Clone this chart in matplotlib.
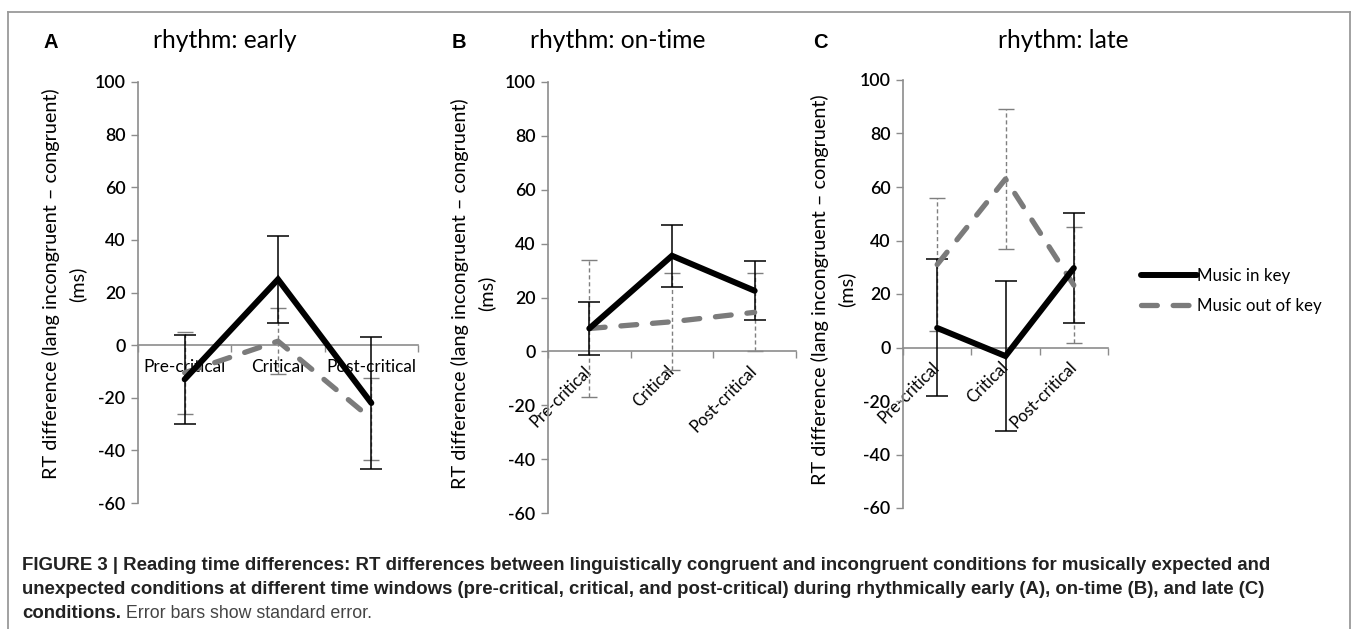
import matplotlib
matplotlib.use("Agg")
import matplotlib.pyplot as plt
from matplotlib.lines import Line2D

# ---------------- data ----------------
categories = ["Pre-critical", "Critical", "Post-critical"]
panel_letters = ["A", "B", "C"]
panel_titles = ["rhythm: early", "rhythm: on-time", "rhythm: late"]
series_names = ["Music in key", "Music out of key"]

early_in_key = [-13, 25, -22]
early_in_key_se = [17, 16.5, 25]
early_out_key = [-10.5, 1.5, -28]
early_out_key_se = [15.5, 12.5, 15.5]

ontime_in_key = [8.5, 35.5, 22.5]
ontime_in_key_se = [10, 11.5, 11]
ontime_out_key = [8.5, 11, 14.5]
ontime_out_key_se = [25.5, 18, 14.5]

late_in_key = [7.3, -3.2, 29.7]
late_in_key_se = [25.6, 28, 20.6]
late_out_key = [31, 63, 23.3]
late_out_key_se = [25, 26, 21.7]

y_ticks = [-60, -40, -20, 0, 20, 40, 60, 80, 100]
ylabel_text = "RT difference (lang incongruent \u2013 congruent)\n(ms)"

caption_line1 = ("FIGURE 3 | Reading time differences: RT differences between linguistically "
                 "congruent and incongruent conditions for musically expected and")
caption_line2 = ("unexpected conditions at different time windows (pre-critical, critical, and "
                 "post-critical) during rhythmically early (A), on-time (B), and late (C)")
caption_line3_bold = "conditions."
caption_line3_regular = " Error bars show standard error."

# ---------------- layout ----------------
W, H = 1358, 629
fig = plt.figure(figsize=(W / 100, H / 100), dpi=100)
fig.patch.set_facecolor("white")

CHART_FONT = "Lato"
CAP_FONT = "Liberation Sans"

# axes boxes in pixels: (left, right, top(100), bottom(-60))
boxes = [(138, 418, 82, 503), (548, 796, 82, 513), (903, 1108, 80, 508)]
label_x = [-0.186, -0.212, -0.232]
label_y = [0.52, 0.51, 0.51]
rotate = [False, True, True]
title_cx = [225, 618, 1063]
letter_x = [43, 452, 813]

panels = [
    (early_in_key, early_in_key_se, early_out_key, early_out_key_se),
    (ontime_in_key, ontime_in_key_se, ontime_out_key, ontime_out_key_se),
    (late_in_key, late_in_key_se, late_out_key, late_out_key_se),
]

AXIS_GRAY = "#8c8c8c"
DASH_GRAY = "#7b7b7b"
EB_GRAY = "#7f7f7f"

x_pos = [0.5, 1.5, 2.5]
legend_handles = None

for i, (ink, inse, outk, outse) in enumerate(panels):
    l, r, t, b = boxes[i]
    ax = fig.add_axes([l / W, 1 - b / H, (r - l) / W, (b - t) / H])
    ax.set_xlim(0, 3)
    ax.set_ylim(-60, 100)
    ax.patch.set_alpha(0)

    # error bars
    eb_out = ax.errorbar(x_pos, outk, yerr=outse, fmt="none", ecolor=EB_GRAY,
                         elinewidth=1.0, capsize=6, capthick=1.0, zorder=2)
    eb_out[2][0].set_linestyle((0, (3, 2)))
    ax.errorbar(x_pos, ink, yerr=inse, fmt="none", ecolor="black",
                elinewidth=1.1, capsize=8, capthick=1.1, zorder=3)

    # lines
    h_out, = ax.plot(x_pos, outk, color=DASH_GRAY, lw=3.8, linestyle=(0, (3.0, 3.0)),
                     dash_capstyle="round", solid_capstyle="round", zorder=4,
                     label=series_names[1])
    h_in, = ax.plot(x_pos, ink, color="black", lw=4.3, solid_capstyle="round",
                    solid_joinstyle="miter", zorder=5, label=series_names[0])
    legend_handles = [h_in, h_out]

    # spines
    for s in ["top", "right"]:
        ax.spines[s].set_visible(False)
    ax.spines["left"].set_color(AXIS_GRAY)
    ax.spines["left"].set_linewidth(1.2)
    ax.spines["bottom"].set_position(("data", 0))
    ax.spines["bottom"].set_color(AXIS_GRAY)
    ax.spines["bottom"].set_linewidth(1.2)

    ax.set_yticks(y_ticks)
    ax.set_yticklabels([str(v) for v in y_ticks])
    ax.tick_params(axis="y", direction="out", length=5, width=1.0, color=AXIS_GRAY,
                   labelsize=12.8, pad=4)
    for lbl in ax.get_yticklabels():
        lbl.set_fontfamily(CHART_FONT)
        lbl.set_fontweight("semibold")

    ax.set_xticks([0, 1, 2, 3])
    ax.set_xticklabels([])
    ax.set_xticks(x_pos, minor=True)
    ax.set_xticklabels(categories, minor=True)
    ax.tick_params(axis="x", which="major", direction="out", length=5, width=1.0,
                   color=AXIS_GRAY)
    if rotate[i]:
        ax.tick_params(axis="x", which="minor", length=0, labelsize=12, pad=12)
        for lbl in ax.get_xticklabels(minor=True):
            lbl.set_rotation(45)
            lbl.set_ha("right")
            lbl.set_va("center")
            lbl.set_rotation_mode("anchor")
            lbl.set_fontfamily(CHART_FONT)
    else:
        ax.tick_params(axis="x", which="minor", length=0, labelsize=12.4, pad=10)
        for lbl in ax.get_xticklabels(minor=True):
            lbl.set_fontfamily(CHART_FONT)

    ax.set_ylabel(ylabel_text, fontsize=14.3, fontfamily=CHART_FONT, linespacing=1.55)
    ax.yaxis.set_label_coords(label_x[i], label_y[i])

    fig.text(title_cx[i] / W, 1 - 40 / H, panel_titles[i], ha="center", va="center",
             fontsize=17.7, fontfamily=CHART_FONT)
    fig.text(letter_x[i] / W, 1 - 42 / H, panel_letters[i], ha="left", va="center",
             fontsize=14.5, fontweight="bold", fontfamily=CAP_FONT)

# legend (panel C)
fig.legend(handles=legend_handles, labels=series_names, loc="center left",
           bbox_to_anchor=(1126 / W, 1 - 291 / H), frameon=False,
           prop={"family": CHART_FONT, "size": 12.2}, handlelength=3.3,
           handletextpad=0.0, labelspacing=0.85)

# outer frame
frame_kw = dict(color="#9a9a9a", lw=1.3, transform=fig.transFigure)
fig.add_artist(Line2D([8 / W, 1350 / W], [1 - 12 / H, 1 - 12 / H], **frame_kw))
fig.add_artist(Line2D([8 / W, 8 / W], [1 - 12 / H, 0], **frame_kw))
fig.add_artist(Line2D([1350 / W, 1350 / W], [1 - 12 / H, 0], **frame_kw))

# caption
cap_kw = dict(ha="left", va="center", fontsize=13.4, fontfamily=CAP_FONT, color="#222222")
fig.text(22 / W, 1 - 566 / H, caption_line1, fontweight="bold", **cap_kw)
fig.text(22 / W, 1 - 590 / H, caption_line2, fontweight="bold", **cap_kw)
t3 = fig.text(22 / W, 1 - 614 / H, caption_line3_bold, fontweight="bold", **cap_kw)
fig.canvas.draw()
bb = t3.get_window_extent(renderer=fig.canvas.get_renderer())
fig.text(bb.x1 / W, 1 - 614 / H, caption_line3_regular, fontweight="normal",
         **{**cap_kw, "color": "#444444", "fontsize": 12.8})

fig.savefig("out.png", dpi=100)
